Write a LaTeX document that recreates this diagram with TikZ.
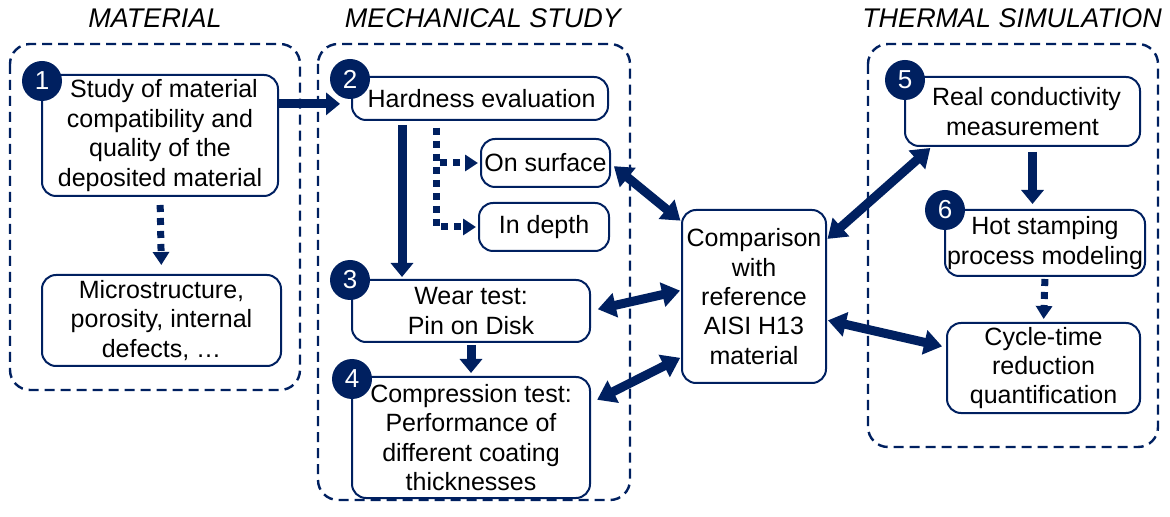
\documentclass[tikz,border=0pt]{standalone}
\usepackage{fontspec}
\setmainfont{Liberation Sans}
\definecolor{rdNavy}{RGB}{0, 32, 96}
\usepackage{tikz}
\usetikzlibrary{positioning, calc, arrows.meta}

\begin{document}
\begin{tikzpicture}[
    x=0.5pt, y=-0.5pt,
    stage/.style={rectangle, draw=rdNavy, line width=1pt, fill=white,
                  rounded corners=7pt, align=center, inner sep=0pt, outer sep=0pt,
                  font=\fontsize{12.5}{14.7}\selectfont},
    badge/.style={circle, fill=rdNavy, text=white, inner sep=0pt,
                  minimum size=20pt, font=\fontsize{13}{13}\selectfont},
    group/.style={draw=rdNavy, line width=1.2pt, dash pattern=on 5pt off 3pt,
                  rounded corners=10pt},
    heading/.style={font=\fontsize{13.5}{13.5}\itshape\selectfont},
    flow/.style={draw=rdNavy, line width=4.5pt,
                 -{Triangle[length=7pt,width=11pt]}},
    dflow/.style={draw=rdNavy, line width=4.5pt,
                  {Triangle[length=9pt,width=12pt]}-{Triangle[length=9pt,width=12pt]}},
    sub/.style={draw=rdNavy, line width=3.5pt, dash pattern=on 3.5pt off 3pt,
                -{Triangle[length=6.5pt,width=8pt]}},
  ]
    \useasboundingbox (0,0) rectangle (1170,517);

    % headings and frames
    \node[heading] (hMat) at (155,18) {MATERIAL};
    \node[heading] (hMech) at (483,18) {MECHANICAL STUDY};
    \node[heading] (hTherm) at (1012,18) {THERMAL SIMULATION};

    \draw[group] (10,44) rectangle (300,390);
    \draw[group] (318,44) rectangle (630,500);
    \draw[group] (868,44) rectangle (1158,447);

    % material
    \node[stage, minimum width=118pt, minimum height=60.5pt] (compat) at (160,135.5) {
      \hspace*{4pt}Study of material\\compatibility and\\quality of the\\deposited material
    };
    \node[stage, minimum width=119.5pt, minimum height=45.5pt] (micro) at (161.5,320.5) {
      Microstructure,\\porosity, internal\\defects, …
    };

    % mechanical study
    \node[stage, minimum width=128pt, minimum height=21.5pt] (hard) at (480,98.5) {
      \hspace*{5pt}Hardness evaluation
    };
    \node[stage, minimum width=64.5pt, minimum height=24pt] (surf) at (545.5,163) {On surface};
    \node[stage, minimum width=65pt, minimum height=24pt] (depth) at (544,227) {In depth};
    \node[stage, minimum width=119pt, minimum height=31pt] (wear) at (471,311) {
      Wear test:\\Pin on Disk
    };
    \node[stage, minimum width=119pt, minimum height=60.5pt] (compr) at (471,437.5) {
      Compression test:\\Performance of\\different coating\\thicknesses
    };

    % comparison
    \node[stage, minimum width=72pt, minimum height=86.5pt] (ref) at (754,296.5) {
      Comparison\\with\\reference\\AISI H13\\material
    };

    % thermal simulation
    \node[stage, minimum width=117.5pt, minimum height=34.5pt] (cond) at (1022.5,111.5) {
      \hspace*{4pt}Real conductivity\\measurement
    };
    \node[stage, minimum width=100pt, minimum height=33pt] (hot) at (1045,243) {
      Hot stamping\\process modeling
    };
    \node[stage, minimum width=96.5pt, minimum height=45pt] (cycle) at (1043.5,368) {
      Cycle-time\\reduction\\quantification
    };

    % numbers
    \node[badge] (b1) at ([yshift=-3pt]compat.north west) {1};
    \node[badge] (b2) at ([xshift=-1pt,yshift=-1pt]hard.north west) {2};
    \node[badge] (b3) at ([xshift=-1pt]wear.north west) {3};
    \node[badge] (b4) at ([yshift=-1pt]compr.north west) {4};
    \node[badge] (b5) at ([yshift=-1.5pt]cond.north west) {5};
    \node[badge] (b6) at (hot.north west) {6};

    % connectors
    \draw[flow, shorten >=6pt] (compat.15) -- (hard.west |- compat.15);
    \draw[sub, shorten <=4.5pt, shorten >=5pt] (compat.south) -- (micro.north);
    \draw[flow, shorten <=2.5pt, shorten >=1.5pt] ([xshift=25pt]hard.south west) -- ([xshift=25pt]wear.north west);
    \draw[sub, shorten <=4pt, shorten >=1.5pt] ([xshift=42pt]hard.south west) |- (surf.west);
    \draw[sub, shorten <=4pt, shorten >=1.5pt] ([xshift=42pt]hard.south west) |- (depth.west);
    \draw[flow, shorten <=1.5pt, shorten >=2pt] (wear.south) -- (compr.north);

    \draw[dflow, shorten <=2.5pt, shorten >=1pt] (surf.east) -- (ref.134);
    \draw[dflow, shorten <=4pt, shorten >=1pt] (wear.east) -- (ref.175);
    \draw[dflow, shorten <=4pt, shorten >=1pt] (compr.16) -- (ref.220);
    \draw[dflow, shorten <=1pt, shorten >=1.5pt] (ref.38) -- (cond.201);
    \draw[dflow, shorten <=1pt, shorten >=2.5pt] (ref.-18) -- (cycle.168);

    \draw[flow, shorten <=3pt, shorten >=3pt] ([xshift=5pt]cond.south) -- ([xshift=5pt]cond.south |- hot.north);
    \draw[sub, shorten <=1.5pt, shorten >=2pt] (hot.south) -- (cycle.north);
  \end{tikzpicture}
\end{document}
